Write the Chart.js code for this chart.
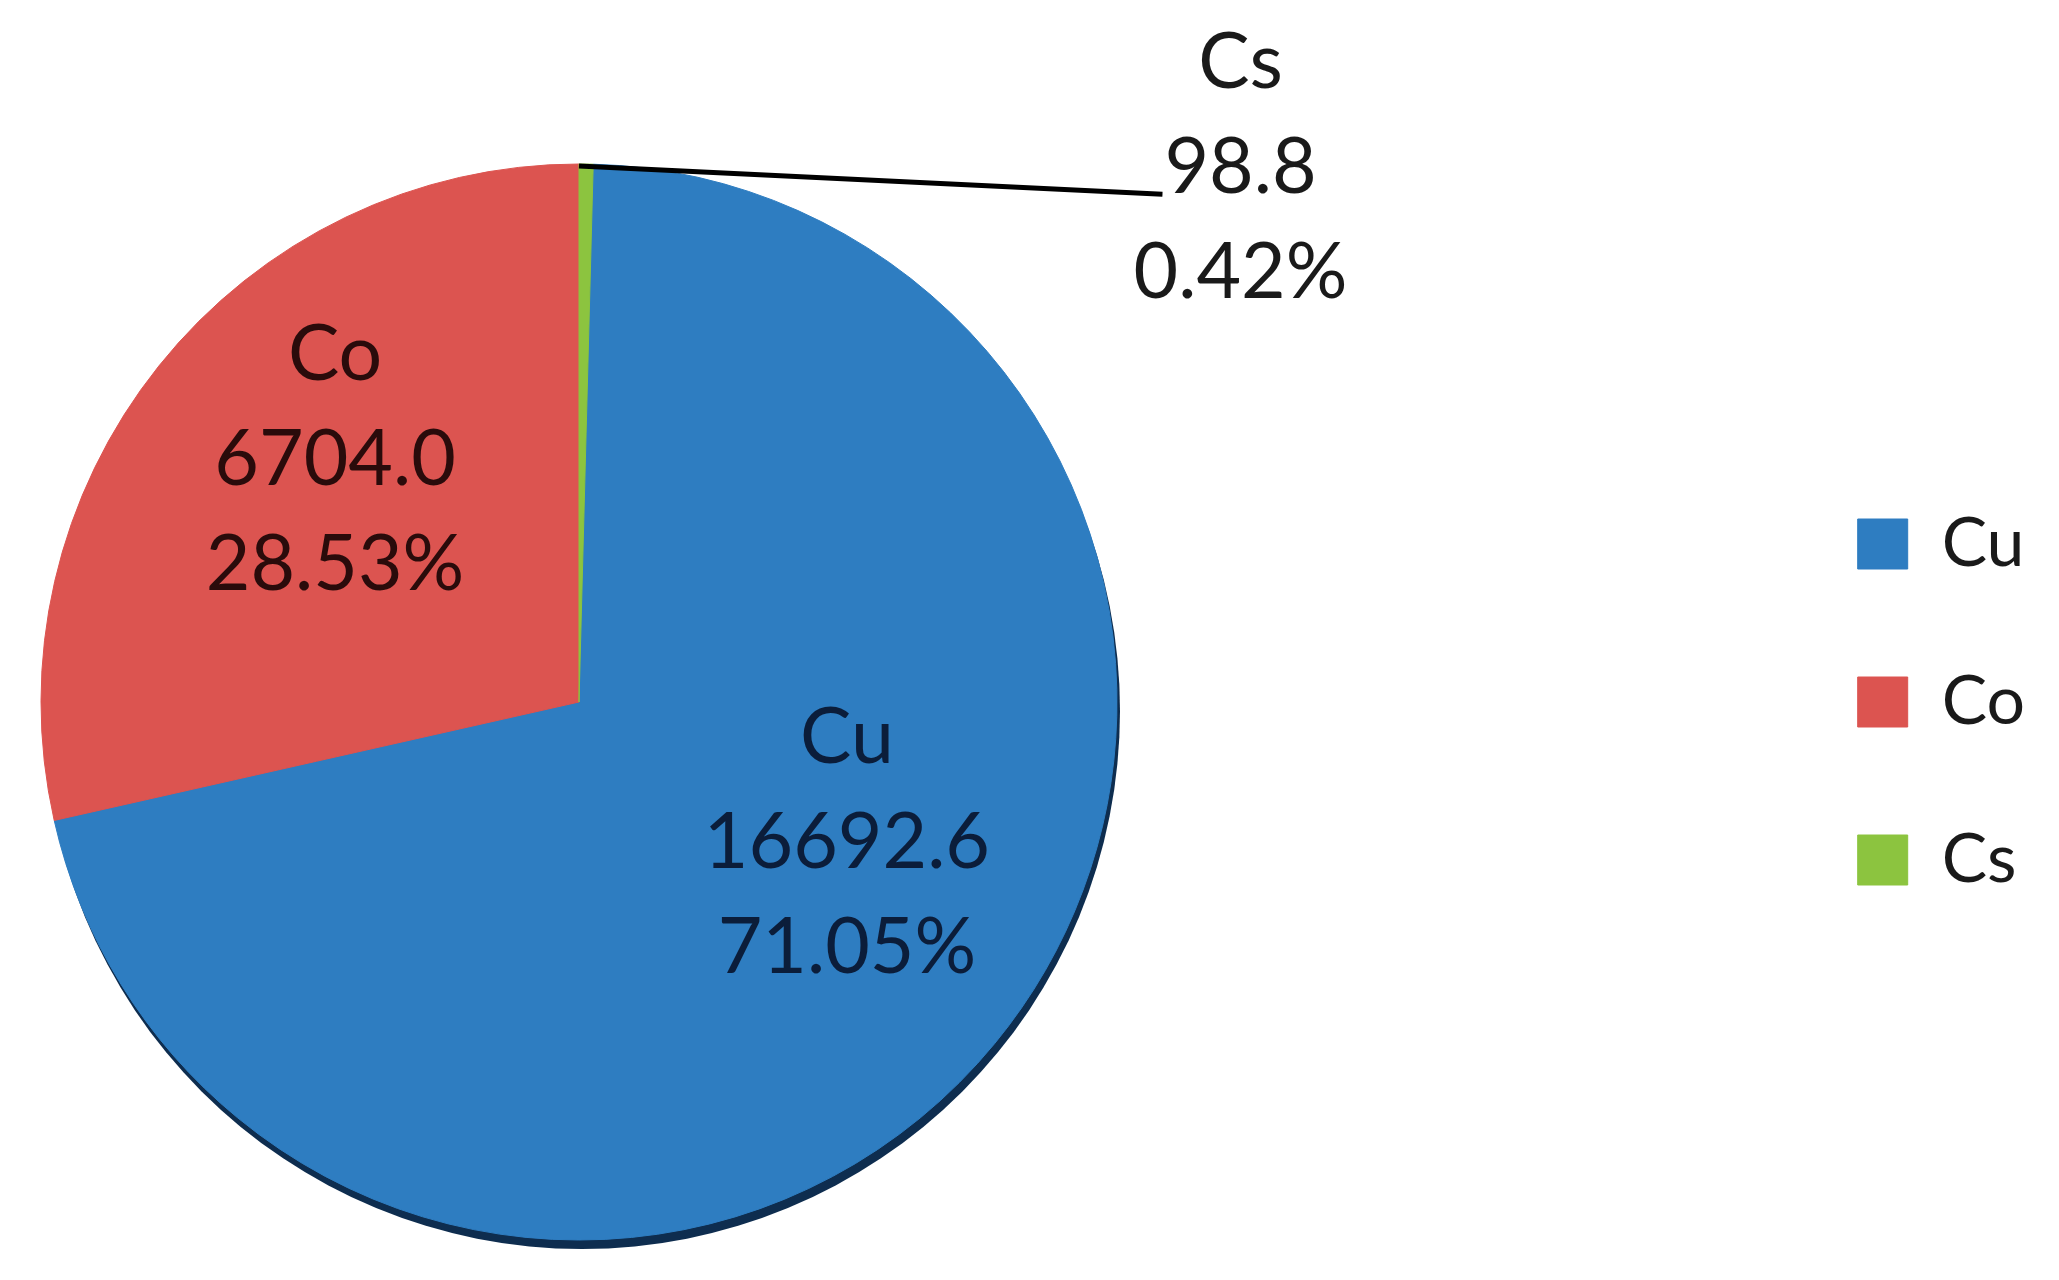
<!DOCTYPE html>
<html>
<head>
<meta charset="utf-8">
<script src="https://cdn.jsdelivr.net/npm/chart.js@4.4.1/dist/chart.umd.min.js"></script>
<style>
  html, body { margin: 0; padding: 0; background: #ffffff; }
  #wrap { width: 2059px; height: 1280px; }
</style>
</head>
<body>
<div id="wrap"><canvas id="elementChart" width="2059" height="1280"></canvas></div>
<script>
var elementNames = ['Cu', 'Co', 'Cs'];
var elementValues = [16692.6, 6704.0, 98.8];
var elementColors = ['#2e7dc1', '#dc5450', '#8cc43f'];
var labelColors = ['#0b1d3a', '#2a0b0b', '#1a1a1a'];

// where each slice label sits: angle in degrees (clockwise from 3 o'clock), distance as part of radius
var labelPlacement = [
  { angle: 27.8, dist: 0.563, outside: false },
  { angle: -135.2, dist: 0.639, outside: false },
  { angle: -38.9, dist: 1.58, outside: true }
];

var pieCenterX = 579;

var total = elementValues.reduce(function(a, b){ return a + b; }, 0);
// turn the pie so the small Cs slice ends at 12 o'clock
var startRotation = elementValues[2] / total * 360;

var sliceLabels = {
  id: 'sliceLabels',
  afterLayout: function(chart) {
    // the pie sits far left of the legend, not centred in the leftover space
    var a = chart.chartArea;
    a.left = 2 * pieCenterX - a.right;
    a.width = a.right - a.left;
  },
  beforeDatasetsDraw: function(chart) {
    // dark rim under the pie, like the tilted edge in the original
    var arc = chart.getDatasetMeta(0).data[0];
    var c = chart.ctx;
    c.save();
    c.beginPath();
    c.arc(arc.x + 3, arc.y + 9, arc.outerRadius, 0, Math.PI * 2);
    c.fillStyle = '#0e2d4f';
    c.fill();
    c.restore();
  },
  afterDatasetsDraw: function(chart) {
    var c = chart.ctx;
    var meta = chart.getDatasetMeta(0);
    c.save();
    c.font = '77px Lato';
    c.textAlign = 'center';
    c.textBaseline = 'middle';
    meta.data.forEach(function(arc, i) {
      var p = labelPlacement[i];
      var a = p.angle * Math.PI / 180;
      var x = arc.x + Math.cos(a) * arc.outerRadius * p.dist;
      var y = arc.y + Math.sin(a) * arc.outerRadius * p.dist;
      var lines = [
        elementNames[i],
        elementValues[i].toFixed(1),
        (elementValues[i] / total * 100).toFixed(2) + '%'
      ];
      if (p.outside) {
        var w = c.measureText(lines[1]).width;
        c.beginPath();
        c.moveTo(arc.x + Math.cos(arc.startAngle) * arc.outerRadius, arc.y + Math.sin(arc.startAngle) * arc.outerRadius + 2);
        c.lineTo(x - w / 2 - 2, y + 26);
        c.lineWidth = 5;
        c.strokeStyle = '#000000';
        c.stroke();
      }
      c.fillStyle = labelColors[i];
      lines.forEach(function(t, k) {
        c.fillText(t, x, y + (k - 1) * 105);
      });
    });
    c.restore();
  }
};

new Chart(document.getElementById('elementChart'), {
  type: 'pie',
  data: {
    labels: elementNames,
    datasets: [{
      data: elementValues,
      backgroundColor: elementColors,
      borderColor: elementColors,
      borderWidth: 1,
      radius: 538
    }]
  },
  options: {
    responsive: false,
    animation: false,
    rotation: startRotation,
    layout: { padding: { left: 0, right: 24, top: 164, bottom: 40 } },
    plugins: {
      legend: {
        position: 'right',
        labels: {
          boxWidth: 50,
          boxHeight: 50,
          padding: 90,
          color: '#1a1a1a',
          font: { family: 'Lato', size: 68 }
        }
      },
      tooltip: { enabled: false }
    }
  },
  plugins: [sliceLabels]
});
</script>
</body>
</html>
